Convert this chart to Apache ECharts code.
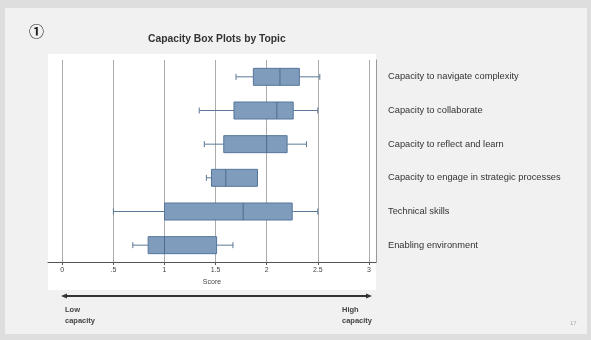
<!DOCTYPE html>
<html>
<head>
<meta charset="utf-8">
<script src="https://cdn.jsdelivr.net/npm/echarts@6/dist/echarts.min.js"></script>
<style>
  html, body { margin: 0; padding: 0; background: #dedede; }
  #chart { width: 591px; height: 340px; }
</style>
</head>
<body>
<div id="chart"></div>
<script>
// topics, top to bottom
const categories = [
  'Capacity to navigate complexity',
  'Capacity to collaborate',
  'Capacity to reflect and learn',
  'Capacity to engage in strategic processes',
  'Technical skills',
  'Enabling environment'
];
const minVals = [1.7, 1.34, 1.39, 1.41, 0.5, 0.69];
const q1Vals = [1.87, 1.68, 1.58, 1.46, 1.0, 0.84];
const medianVals = [2.13, 2.1, 2.0, 1.6, 1.77, 1.0];
const q3Vals = [2.32, 2.26, 2.2, 1.91, 2.25, 1.51];
const maxVals = [2.52, 2.5, 2.39, 1.91, 2.5, 1.67];
const tickValues = [0, 0.5, 1, 1.5, 2, 2.5, 3];
const tickLabels = ['0', '.5', '1', '1.5', '2', '2.5', '3'];

const boxData = categories.map((c, i) => [minVals[i], q1Vals[i], medianVals[i], q3Vals[i], maxVals[i], i]);

const boxFill = '#7f9cbd';
const boxLine = '#56769b';

function renderBox(params, api) {
  const i = api.value(5);
  const yc = api.coord([0, i])[1];
  const half = 8.5;
  const cap = 3;
  const xMin = api.coord([api.value(0), i])[0];
  const xQ1 = api.coord([api.value(1), i])[0];
  const xMed = api.coord([api.value(2), i])[0];
  const xQ3 = api.coord([api.value(3), i])[0];
  const xMax = api.coord([api.value(4), i])[0];
  const ls = { stroke: '#5d7896', lineWidth: 1 };
  return {
    type: 'group',
    children: [
      { type: 'line', shape: { x1: xMin, y1: yc, x2: xQ1, y2: yc }, style: ls },
      { type: 'line', shape: { x1: xQ3, y1: yc, x2: xMax, y2: yc }, style: ls },
      { type: 'line', shape: { x1: xMin, y1: yc - cap, x2: xMin, y2: yc + cap }, style: ls },
      { type: 'line', shape: { x1: xMax, y1: yc - cap, x2: xMax, y2: yc + cap }, style: ls },
      { type: 'rect', shape: { x: xQ1, y: yc - half, width: xQ3 - xQ1, height: half * 2 },
        style: { fill: boxFill, stroke: boxLine, lineWidth: 1 } },
      { type: 'line', shape: { x1: xMed, y1: yc - half, x2: xMed, y2: yc + half },
        style: { stroke: '#4d6b8e', lineWidth: 1 } }
    ]
  };
}

const chart = echarts.init(document.getElementById('chart'));
chart.setOption({
  backgroundColor: '#dedede',
  animation: false,
  textStyle: { fontFamily: 'Liberation Sans, Arial, sans-serif' },
  graphic: [
    { type: 'rect', z: -10, shape: { x: 5, y: 8, width: 582, height: 326 }, style: { fill: '#f1f1f1' } },
    { type: 'rect', z: -9, shape: { x: 48, y: 54, width: 328, height: 236 }, style: { fill: '#ffffff' } },
    { type: 'text', left: 29, top: 24,
      style: { text: '①', font: 'bold 15px "Noto Sans CJK SC"', fill: '#222' } },
    { type: 'text', left: 148, top: 34,
      style: { text: 'Capacity Box Plots by Topic', font: 'bold 10.3px "Liberation Sans", Arial', fill: '#333' } },
    { type: 'line', shape: { x1: 64, y1: 296, x2: 369, y2: 296 }, style: { stroke: '#333', lineWidth: 2 } },
    { type: 'polygon', shape: { points: [[61, 296], [67, 293.5], [67, 298.5]] }, style: { fill: '#333' } },
    { type: 'polygon', shape: { points: [[372, 296], [366, 293.5], [366, 298.5]] }, style: { fill: '#333' } },
    { type: 'text', left: 65, top: 304,
      style: { text: 'Low\ncapacity', font: 'bold 7.5px "Liberation Sans", Arial', fill: '#444', lineHeight: 11 } },
    { type: 'text', left: 342, top: 304,
      style: { text: 'High\ncapacity', font: 'bold 7.5px "Liberation Sans", Arial', fill: '#444', lineHeight: 11 } },
    { type: 'text', left: 570, top: 320,
      style: { text: '17', font: '6px "Liberation Sans", Arial', fill: '#aaa' } }
  ],
  grid: { left: 48, right: 215, top: 60, bottom: 78 },
  xAxis: {
    type: 'value',
    min: -0.14,
    max: 3.07,
    name: 'Score',
    nameLocation: 'middle',
    nameGap: 17,
    nameTextStyle: { fontSize: 7, color: '#444' },
    axisLine: { show: true, lineStyle: { color: '#555', width: 1 } },
    axisTick: { show: true, length: 3, customValues: tickValues, lineStyle: { color: '#555' } },
    axisLabel: {
      customValues: tickValues,
      fontSize: 7, color: '#444', margin: 5,
      formatter: v => tickLabels[tickValues.indexOf(Math.round(v * 10) / 10)] || ''
    },
    splitLine: { show: true, lineStyle: { color: '#ababab', width: 1 } }
  },
  yAxis: {
    type: 'category',
    data: categories,
    inverse: true,
    position: 'right',
    axisLine: { show: true, onZero: false, lineStyle: { color: '#999' } },
    axisTick: { show: false },
    axisLabel: { align: 'left', margin: 12, fontSize: 9.3, color: '#333' },
    splitLine: { show: false }
  },
  series: [{
    type: 'custom',
    renderItem: renderBox,
    encode: { x: [0, 1, 2, 3, 4], y: 5 },
    data: boxData
  }]
});
</script>
</body>
</html>
